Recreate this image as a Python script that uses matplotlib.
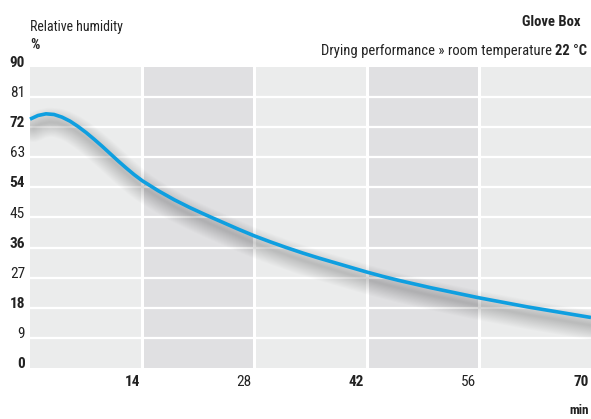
import matplotlib
matplotlib.use("Agg")
import matplotlib.pyplot as plt
import matplotlib.transforms as mtransforms
from matplotlib import font_manager

# drying curve, relative humidity (%) over time (min)
minutes = [0, 1, 2, 3, 4, 5, 6, 7, 8, 9, 10, 11, 12, 13, 14, 16, 18, 20, 22,
           24, 26, 28, 30, 32, 34, 36, 38, 40, 42, 44, 46, 48, 50, 52, 54, 56,
           58, 60, 62, 64, 66, 68, 70]
humidity = [74.4, 75.5, 76.0, 75.8, 75.0, 73.8, 72.2, 70.4, 68.4, 66.3, 64.1,
            61.9, 59.8, 57.8, 56.0, 53.0, 50.3, 47.9, 45.7, 43.6, 41.5, 39.5,
            37.7, 36.0, 34.4, 32.9, 31.5, 30.1, 28.7, 27.4, 26.2, 25.1, 24.0,
            23.0, 22.0, 21.0, 20.1, 19.2, 18.3, 17.5, 16.7, 15.9, 15.1]

y_ticks = [0, 9, 18, 27, 36, 45, 54, 63, 72, 81, 90]
x_ticks = [14, 28, 42, 56, 70]
band_edges = [0, 14, 28, 42, 56, 70]

names = {f.name for f in font_manager.fontManager.ttflist}
candidates = ["Roboto Condensed", "Barlow Semi Condensed", "PT Sans Narrow",
              "Archivo Narrow", "Liberation Sans Narrow", "Open Sans Condensed",
              "DejaVu Sans"]
FAMILY = next(c for c in candidates if c in names or c == "DejaVu Sans")
plt.rcParams["font.family"] = [FAMILY, "DejaVu Sans"]

TEXT = "#222222"
LIGHT = "#ebecec"
DARK = "#e0e0e2"
BLUE = "#0f9fe0"
FS = 10.5

W, H = 591, 419
fig = plt.figure(figsize=(W / 100, H / 100), dpi=100)
ax = fig.add_axes([30 / W, 1 - 368 / H, 561 / W, 301 / H])
ax.set_xlim(0, 70)
ax.set_ylim(0, 90)
ax.axis("off")

for i in range(len(band_edges) - 1):
    ax.axvspan(band_edges[i], band_edges[i + 1], color=DARK if i % 2 else LIGHT, lw=0, zorder=0)
for y in y_ticks[1:-1]:
    ax.axhline(y, color="white", lw=1.6, zorder=1)
for x in x_ticks[:-1]:
    ax.axvline(x, color="white", lw=2.2, zorder=1)

# soft shadow beneath the line
off = mtransforms.offset_copy(ax.transData, fig=fig, x=2.5, y=-6, units="points")
for k in range(16):
    ax.plot(minutes, humidity, color="black", lw=1.5 + k * 1.3, alpha=0.011,
            solid_capstyle="round", solid_joinstyle="round", transform=off, zorder=2)
ax.plot(minutes, humidity, color=BLUE, lw=2.6, solid_capstyle="butt",
        solid_joinstyle="round", zorder=3, clip_on=False)

# tick labels sit on their grid lines
ytrans = mtransforms.blended_transform_factory(fig.transFigure, ax.transData)
for i, y in enumerate(y_ticks):
    ax.text(25 / W, y, str(y), transform=ytrans, ha="right", va="baseline",
            fontsize=11, color=TEXT, fontweight="bold" if i % 2 == 0 else "normal")
xtrans = mtransforms.blended_transform_factory(ax.transData, fig.transFigure)
for i, x in enumerate(x_ticks):
    ax.text(x - 0.3, 1 - 386 / H, str(x), transform=xtrans, ha="right", va="baseline",
            fontsize=11, color=TEXT, fontweight="normal" if i % 2 else "bold")

fig.text(30 / W, 1 - 31 / H, "Relative humidity", fontsize=10, color=TEXT, va="baseline")
fig.text(30 / W, 1 - 49 / H, "%", fontsize=FS, color=TEXT, fontweight="bold", va="baseline")
fig.text(580 / W, 1 - 26 / H, "Glove Box", fontsize=FS, color=TEXT, fontweight="bold",
         ha="right", va="baseline")
sub = fig.text(587 / W, 1 - 55 / H, "22 °C", fontsize=FS, color=TEXT, fontweight="bold",
               ha="right", va="baseline")
fig.canvas.draw()
bb = sub.get_window_extent()
fig.text((bb.x0 - 3) / W, 1 - 55 / H, "Drying performance » room temperature",
         fontsize=FS, color=TEXT, ha="right", va="baseline")
fig.text(589 / W, 1 - 414 / H, "min", fontsize=9.5, color=TEXT, fontweight="bold",
         ha="right", va="baseline")

fig.savefig("out.png", dpi=100)
